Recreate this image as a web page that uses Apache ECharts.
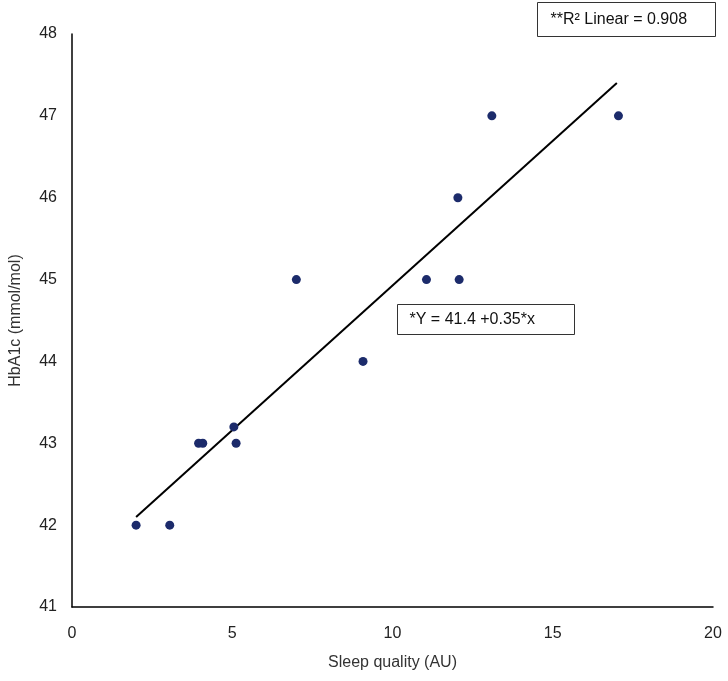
<!DOCTYPE html>
<html>
<head>
<meta charset="utf-8">
<script src="https://cdn.jsdelivr.net/npm/echarts@6/dist/echarts.min.js"></script>
<style>html,body{margin:0;padding:0;background:#fff}#c{width:728px;height:681px}</style>
</head>
<body>
<div id="c"></div>
<script>
var sleepQuality = [2, 3.05, 3.95, 4.08, 5.05, 5.12, 7, 9.08, 11.06, 12.04, 12.08, 13.1, 17.05];
var hba1c = [42, 42, 43, 43, 43.2, 43, 45, 44, 45, 46, 45, 47, 47];
var fitX = [2, 17];
var fitY = [42.1, 47.4];
var xTicks = [0, 5, 10, 15, 20];
var yTicks = [41, 42, 43, 44, 45, 46, 47, 48];

var pts = sleepQuality.map(function (x, i) { return [x, hba1c[i]]; });
var fit = fitX.map(function (x, i) { return [x, fitY[i]]; });
var font = 'Liberation Sans, Arial, sans-serif';
var chart = echarts.init(document.getElementById('c'), null, {renderer: 'canvas'});
chart.setOption({
  animation: false,
  backgroundColor: '#fff',
  grid: {left: 70, right: 15, top: 34, bottom: 74, containLabel: false},
  xAxis: {
    type: 'value', min: xTicks[0], max: xTicks[xTicks.length - 1], interval: 5,
    name: 'Sleep quality (AU)', nameLocation: 'middle', nameGap: 48,
    nameTextStyle: {fontFamily: font, fontSize: 16, color: '#333'},
    axisLine: {lineStyle: {color: '#000', width: 1.5}},
    axisTick: {show: false},
    splitLine: {show: false},
    axisLabel: {fontFamily: font, fontSize: 16, color: '#222', margin: 19}
  },
  yAxis: {
    type: 'value', min: yTicks[0], max: yTicks[yTicks.length - 1], interval: 1,
    name: 'HbA1c (mmol/mol)', nameLocation: 'middle', nameGap: 48,
    nameTextStyle: {fontFamily: font, fontSize: 16, color: '#333'},
    axisLine: {show: true, lineStyle: {color: '#000', width: 1.5}},
    axisTick: {show: false},
    splitLine: {show: false},
    axisLabel: {fontFamily: font, fontSize: 16, color: '#222', margin: 15}
  },
  series: [
    {
      type: 'line', data: fit, showSymbol: false, symbol: 'none',
      lineStyle: {color: '#000', width: 2}, z: 2
    },
    {
      type: 'scatter', data: pts, symbolSize: 9,
      itemStyle: {color: '#1c2b6b', opacity: 1}, z: 3
    }
  ],
  graphic: [
    {
      type: 'group', left: 537, top: 2,
      children: [
        {type: 'rect', shape: {x: 0, y: 0, width: 178, height: 34}, style: {fill: '#fff', stroke: '#333', lineWidth: 1}},
        {type: 'text', x: 13, y: 17, style: {text: '**R² Linear = 0.908', font: '16px ' + font, fill: '#111', verticalAlign: 'middle'}}
      ]
    },
    {
      type: 'group', left: 397, top: 304,
      children: [
        {type: 'rect', shape: {x: 0, y: 0, width: 177, height: 30}, style: {fill: '#fff', stroke: '#333', lineWidth: 1}},
        {type: 'text', x: 12, y: 15, style: {text: '*Y = 41.4 +0.35*x', font: '16px ' + font, fill: '#111', verticalAlign: 'middle'}}
      ]
    }
  ]
});
</script>
</body>
</html>
